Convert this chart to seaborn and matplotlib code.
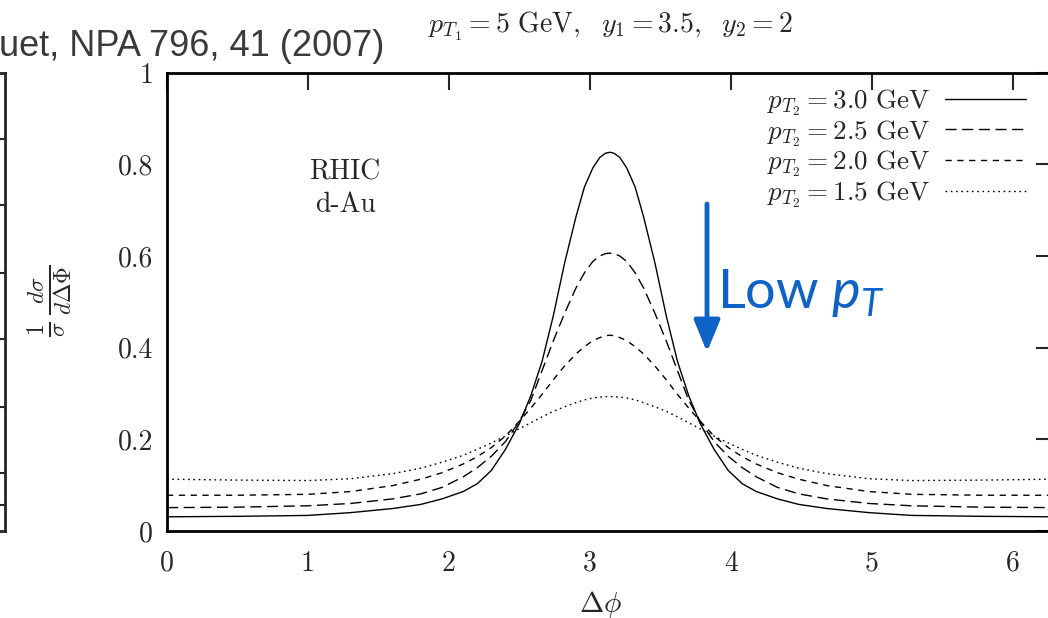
import numpy as np
import pandas as pd
import matplotlib
matplotlib.use("Agg")
import matplotlib.pyplot as plt
import seaborn as sns

# ---- data ----
dphi = [0, 0.5, 1.0, 1.3, 1.6, 1.8, 1.95, 2.1, 2.2, 2.3, 2.4, 2.5, 2.58, 2.66, 2.74, 2.82, 2.9, 2.96, 3.02, 3.07, 3.11, 3.14,
        3.17, 3.21, 3.26, 3.32, 3.38, 3.46, 3.54, 3.62, 3.70, 3.78, 3.88, 3.98, 4.08, 4.18, 4.33, 4.48, 4.68, 4.98, 5.28, 5.78, 6.28]
pt30 = [0.031, 0.032, 0.034, 0.040, 0.049, 0.058, 0.070, 0.086, 0.103, 0.132, 0.178, 0.235, 0.295, 0.370, 0.470, 0.585, 0.685, 0.750, 0.792, 0.815, 0.824, 0.826,
        0.824, 0.815, 0.792, 0.750, 0.685, 0.585, 0.470, 0.370, 0.295, 0.235, 0.178, 0.132, 0.103, 0.086, 0.070, 0.058, 0.049, 0.040, 0.034, 0.032, 0.031]
pt25 = [0.051, 0.052, 0.055, 0.060, 0.070, 0.081, 0.095, 0.118, 0.138, 0.163, 0.195, 0.240, 0.285, 0.350, 0.415, 0.475, 0.530, 0.563, 0.588, 0.600, 0.605, 0.606,
        0.605, 0.600, 0.588, 0.563, 0.530, 0.475, 0.415, 0.350, 0.285, 0.240, 0.195, 0.163, 0.138, 0.118, 0.095, 0.081, 0.070, 0.060, 0.055, 0.052, 0.051]
pt20 = [0.078, 0.078, 0.080, 0.086, 0.099, 0.113, 0.127, 0.146, 0.162, 0.182, 0.207, 0.240, 0.268, 0.298, 0.330, 0.360, 0.386, 0.402, 0.415, 0.422, 0.426, 0.427,
        0.426, 0.422, 0.415, 0.402, 0.386, 0.360, 0.330, 0.298, 0.268, 0.240, 0.207, 0.182, 0.162, 0.146, 0.127, 0.113, 0.099, 0.086, 0.080, 0.078, 0.078]
pt15 = [0.113, 0.111, 0.110, 0.114, 0.125, 0.137, 0.150, 0.165, 0.178, 0.192, 0.207, 0.223, 0.236, 0.249, 0.261, 0.271, 0.280, 0.286, 0.290, 0.292, 0.293, 0.293,
        0.293, 0.292, 0.290, 0.286, 0.280, 0.271, 0.261, 0.249, 0.236, 0.223, 0.207, 0.192, 0.178, 0.165, 0.150, 0.137, 0.125, 0.114, 0.110, 0.111, 0.113]
series_labels = [r"$p_{T_2}=3.0\ \mathrm{GeV}$", r"$p_{T_2}=2.5\ \mathrm{GeV}$",
                 r"$p_{T_2}=2.0\ \mathrm{GeV}$", r"$p_{T_2}=1.5\ \mathrm{GeV}$"]
xtick_vals = [0, 1, 2, 3, 4, 5, 6]
ytick_vals = [0, 0.2, 0.4, 0.6, 0.8, 1]
ytick_labels = ["0", "0.2", "0.4", "0.6", "0.8", "1"]
left_panel_ticks = [0.856, 0.710, 0.563, 0.419, 0.271, 0.127, 0.057]

sns.set_style("white")
plt.rcParams["font.family"] = ["cmr10", "DejaVu Serif"]
plt.rcParams["mathtext.fontset"] = "cm"
plt.rcParams["mathtext.rm"] = "Lato"
plt.rcParams["mathtext.it"] = "Lato:italic"
plt.rcParams["axes.formatter.use_mathtext"] = True

W, H = 1048, 618
fig = plt.figure(figsize=(W / 100, H / 100), dpi=100)
fig.patch.set_facecolor("white")

def fx(px):
    return px / W

def fy(py):
    return 1 - py / H

# partial neighbouring panel at far left
ax0 = fig.add_axes([fx(-300), fy(531), fx(305), (531 - 72.5) / H])
ax0.set_xlim(0, 1)
ax0.set_ylim(0, 1)
ax0.set_xticks([])
ax0.set_yticks(left_panel_ticks)
ax0.tick_params(axis="y", left=False, right=True, labelleft=False, direction="in", length=12, width=1.5)
for s in ax0.spines.values():
    s.set_linewidth(2.0)

ax = fig.add_axes([fx(167), fy(531), (1053 - 167) / W, (531 - 72.5) / H])
ax.set_facecolor("white")

df = pd.DataFrame({"dphi": dphi, "p30": pt30, "p25": pt25, "p20": pt20, "p15": pt15})
styles = ["-", (0, (8, 4)), (0, (4.5, 4)), (0, (1.2, 2.6))]
for col, lab, ls in zip(["p30", "p25", "p20", "p15"], series_labels, styles):
    sns.lineplot(data=df, x="dphi", y=col, ax=ax, color="black", linewidth=1.0,
                 linestyle=ls, label=lab, sort=False)

ax.set_xlim(0, 2 * np.pi)
ax.set_ylim(0, 1)
ax.set_xticks(xtick_vals)
ax.set_xticklabels([str(v) for v in xtick_vals])
ax.set_yticks(ytick_vals)
ax.set_yticklabels(ytick_labels)
ax.tick_params(axis="both", direction="in", length=12, width=1.5, top=True, right=True,
               labelsize=20)
ax.tick_params(axis="x", pad=14)
ax.tick_params(axis="y", pad=10)
for s in ax.spines.values():
    s.set_linewidth(2.0)
    s.set_color("black")
ax.set_xlabel("")
ax.set_ylabel("")

leg = ax.legend(loc="upper right", bbox_to_anchor=(fx(1026), fy(87)), bbox_transform=fig.transFigure,
                frameon=False, markerfirst=False, fontsize=19.5, handlelength=3.0,
                handletextpad=0.55, labelspacing=0.0, borderpad=0, borderaxespad=0)

fig.text(fx(610), fy(26), r"$p_{T_1}=5\ \mathrm{GeV},\ \ y_1=3.5,\ \ y_2=2$",
         ha="center", va="center", fontsize=20, math_fontfamily="cm")
fig.text(fx(601), fy(604), r"$\Delta\phi$", ha="center", va="center", fontsize=21, math_fontfamily="cm")
fig.text(fx(50), fy(301), r"$\frac{1}{\sigma}\,\frac{d\sigma}{d\Delta\Phi}$", ha="center", va="center",
         rotation=90, fontsize=24, math_fontfamily="cm")
fig.text(fx(345), fy(172), "RHIC", ha="center", va="center", fontsize=20)
fig.text(fx(345), fy(205), "d-Au", ha="center", va="center", fontsize=20)

fig.text(fx(384), fy(56), "uet, NPA 796, 41 (2007)", ha="right", va="baseline",
         fontsize=26, family="Liberation Sans", color="#3a3a3a")

blue = "#0F63C6"
fig.add_artist(matplotlib.patches.FancyArrowPatch(
    (fx(707), fy(204)), (fx(707), fy(352)), transform=fig.transFigure,
    arrowstyle="-|>,head_length=0.8,head_width=0.33", mutation_scale=24,
    lw=3.5, color=blue, shrinkA=0, shrinkB=0))
fig.text(fx(717), fy(308), r"Low $p_T$", ha="left", va="baseline", fontsize=39,
         family="Lato", color=blue, math_fontfamily="custom")

fig.savefig("out.png", dpi=100, facecolor="white")
